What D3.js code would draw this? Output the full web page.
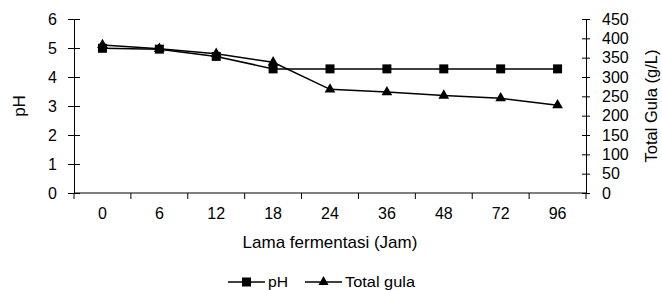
<!DOCTYPE html>
<html>
<head>
<meta charset="utf-8">
<script src="https://cdnjs.cloudflare.com/ajax/libs/d3/7.8.5/d3.min.js"></script>
<style>
  body { margin: 0; background: #fff; }
  text { font-family: "Liberation Sans", Arial, sans-serif; fill: #000; }
</style>
</head>
<body>
<div id="chart"></div>
<script>
// data
var categories = ["0", "6", "12", "18", "24", "36", "48", "72", "96"];
var phValues = [4.99, 4.96, 4.71, 4.28, 4.28, 4.28, 4.28, 4.28, 4.28];
var gulaValues = [383, 373, 360, 338, 268, 261, 252, 245, 227];
var phTicks = [0, 1, 2, 3, 4, 5, 6];
var gulaTicks = [0, 50, 100, 150, 200, 250, 300, 350, 400, 450];

var width = 662, height = 290;
var margin = {top: 19, right: 76, bottom: 97, left: 74};
var w = width - margin.left - margin.right,
    h = height - margin.top - margin.bottom;

var svg = d3.select("#chart").append("svg")
  .attr("width", width)
  .attr("height", height);

var g = svg.append("g")
  .attr("transform", "translate(" + margin.left + "," + margin.top + ")");

var xScale = d3.scaleBand()
  .domain(categories)
  .range([0, w]);

var yLeft = d3.scaleLinear().domain([0, 6]).range([h, 0]);
var yRight = d3.scaleLinear().domain([0, 450]).range([h, 0]);

var cx = function(d, i) { return xScale(categories[i]) + xScale.bandwidth() / 2; };

// x axis: ticks at category boundaries, pointing down
var xAxis = g.append("g").attr("transform", "translate(0," + h + ")");
xAxis.append("line")
  .attr("x1", 0).attr("x2", w)
  .attr("stroke", "#000").attr("stroke-width", 1);
var bounds = categories.map(function(c) { return xScale(c); }).concat([w]);
xAxis.selectAll(".xt").data(bounds).enter().append("line")
  .attr("x1", function(d) { return d; }).attr("x2", function(d) { return d; })
  .attr("y1", 0).attr("y2", 6)
  .attr("stroke", "#000");
xAxis.selectAll(".xl").data(categories).enter().append("text")
  .attr("x", function(d) { return xScale(d) + xScale.bandwidth() / 2; })
  .attr("y", 26)
  .attr("text-anchor", "middle")
  .style("font-size", "16px")
  .text(function(d) { return d; });

// left axis
var leftAxis = g.append("g")
  .call(d3.axisLeft(yLeft).tickValues(phTicks).tickFormat(d3.format("d"))
    .tickSize(6).tickPadding(11).tickSizeOuter(0));
leftAxis.selectAll(".tick line").attr("x2", -6).attr("x1", 6);
leftAxis.selectAll("text").style("font-size", "16px").style("font-family", "Liberation Sans, Arial, sans-serif");

// right axis
var rightAxis = g.append("g")
  .attr("transform", "translate(" + w + ",0)")
  .call(d3.axisRight(yRight).tickValues(gulaTicks).tickSize(4).tickPadding(12).tickSizeOuter(0));
rightAxis.selectAll(".tick line").attr("x1", -4).attr("x2", 4);
rightAxis.selectAll("text").style("font-size", "16px").style("font-family", "Liberation Sans, Arial, sans-serif");

// lines
var phLine = d3.line().x(cx).y(function(d) { return yLeft(d); });
var gulaLine = d3.line().x(cx).y(function(d) { return yRight(d); });

g.append("path").datum(phValues)
  .attr("d", phLine).attr("fill", "none")
  .attr("stroke", "#000").attr("stroke-width", 1.5);
g.append("path").datum(gulaValues)
  .attr("d", gulaLine).attr("fill", "none")
  .attr("stroke", "#000").attr("stroke-width", 1.5);

var sq = d3.symbol().type(d3.symbolSquare).size(81);
var tri = d3.symbol().type(d3.symbolTriangle).size(50);

g.selectAll(".tri").data(gulaValues).enter().append("path")
  .attr("d", tri)
  .attr("transform", function(d, i) { return "translate(" + cx(d, i) + "," + yRight(d) + ")"; })
  .attr("fill", "#000");
g.selectAll(".sq").data(phValues).enter().append("path")
  .attr("d", sq)
  .attr("transform", function(d, i) { return "translate(" + cx(d, i) + "," + yLeft(d) + ")"; })
  .attr("fill", "#000");

// axis titles
g.append("text")
  .attr("x", w / 2).attr("y", h + 55)
  .attr("text-anchor", "middle")
  .style("font-size", "17px")
  .text("Lama fermentasi (Jam)");

svg.append("text")
  .attr("transform", "translate(25," + (margin.top + h / 2) + ") rotate(-90)")
  .attr("text-anchor", "middle")
  .style("font-size", "17px")
  .text("pH");

svg.append("text")
  .attr("transform", "translate(657," + (margin.top + h / 2) + ") rotate(-90)")
  .attr("text-anchor", "middle")
  .style("font-size", "16.5px")
  .text("Total Gula (g/L)");

// legend
var legend = svg.append("g").attr("transform", "translate(228,282)");
var items = [
  {label: "pH", size: 81, type: d3.symbolSquare, x: 0, len: 20},
  {label: "Total gula", size: 45, type: d3.symbolTriangle, x: 77, len: 70}
];
var li = legend.selectAll(".li").data(items).enter().append("g")
  .attr("transform", function(d) { return "translate(" + d.x + ",0)"; });
li.append("line").attr("x1", 0).attr("x2", 37)
  .attr("stroke", "#000").attr("stroke-width", 1.5);
li.append("path")
  .attr("d", function(d) { return d3.symbol().type(d.type).size(d.size)(); })
  .attr("transform", "translate(18.5,0)").attr("fill", "#000");
li.append("text").attr("x", 40).attr("y", 5)
  .style("font-size", "14px")
  .attr("textLength", function(d) { return d.len; })
  .attr("lengthAdjust", "spacingAndGlyphs")
  .text(function(d) { return d.label; });
</script>
</body>
</html>
